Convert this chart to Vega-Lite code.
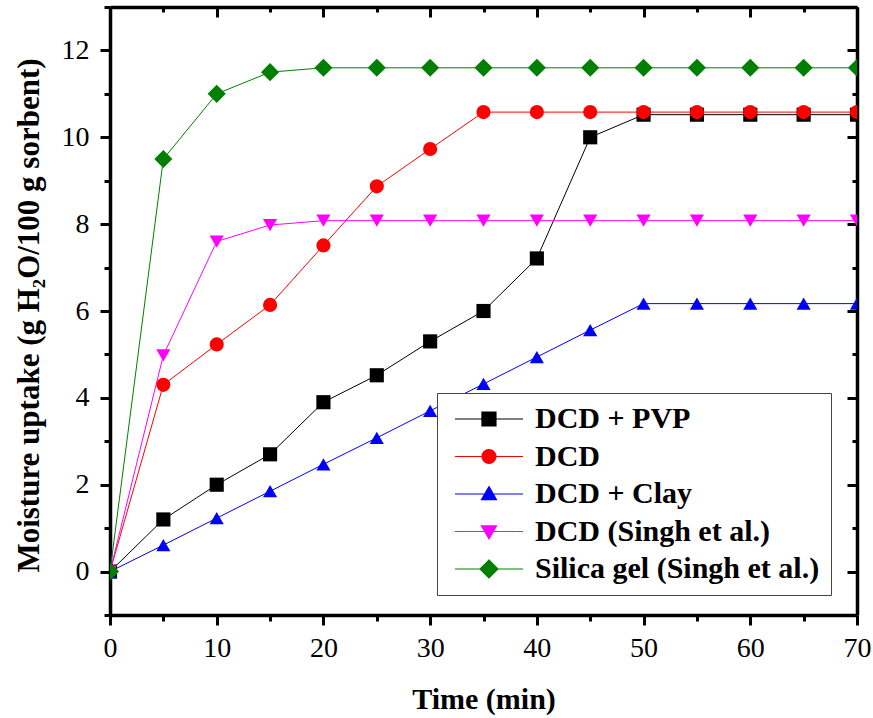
{
  "$schema": "https://vega.github.io/schema/vega-lite/v6.json",
  "width": 747,
  "height": 608,
  "autosize": {"type": "none"},
  "padding": {"left": 110, "top": 7, "right": 16, "bottom": 103},
  "background": "white",
  "config": {
    "view": {"stroke": null},
    "font": "Liberation Serif",
    "axis": {
      "labelFont": "Liberation Serif",
      "titleFont": "Liberation Serif",
      "labelColor": "black",
      "titleColor": "black",
      "domainColor": "black",
      "tickColor": "black",
      "domainWidth": 3.5,
      "tickWidth": 3,
      "grid": false,
      "labelFontSize": 28,
      "titleFontSize": 30,
      "titleFontWeight": "bold"
    }
  },
  "data": {
    "values": [
      {"series": "DCD + PVP", "t": 0, "v": 0},
      {"series": "DCD + PVP", "t": 5, "v": 1.2},
      {"series": "DCD + PVP", "t": 10, "v": 2.0},
      {"series": "DCD + PVP", "t": 15, "v": 2.7},
      {"series": "DCD + PVP", "t": 20, "v": 3.9},
      {"series": "DCD + PVP", "t": 25, "v": 4.52},
      {"series": "DCD + PVP", "t": 30, "v": 5.3},
      {"series": "DCD + PVP", "t": 35, "v": 6.0},
      {"series": "DCD + PVP", "t": 40, "v": 7.21},
      {"series": "DCD + PVP", "t": 45, "v": 10.0},
      {"series": "DCD + PVP", "t": 50, "v": 10.52},
      {"series": "DCD + PVP", "t": 55, "v": 10.52},
      {"series": "DCD + PVP", "t": 60, "v": 10.52},
      {"series": "DCD + PVP", "t": 65, "v": 10.52},
      {"series": "DCD + PVP", "t": 70, "v": 10.52},
      {"series": "DCD", "t": 0, "v": 0},
      {"series": "DCD", "t": 5, "v": 4.3},
      {"series": "DCD", "t": 10, "v": 5.23},
      {"series": "DCD", "t": 15, "v": 6.14},
      {"series": "DCD", "t": 20, "v": 7.51},
      {"series": "DCD", "t": 25, "v": 8.87},
      {"series": "DCD", "t": 30, "v": 9.73},
      {"series": "DCD", "t": 35, "v": 10.58},
      {"series": "DCD", "t": 40, "v": 10.58},
      {"series": "DCD", "t": 45, "v": 10.58},
      {"series": "DCD", "t": 50, "v": 10.58},
      {"series": "DCD", "t": 55, "v": 10.58},
      {"series": "DCD", "t": 60, "v": 10.58},
      {"series": "DCD", "t": 65, "v": 10.58},
      {"series": "DCD", "t": 70, "v": 10.58},
      {"series": "DCD + Clay", "t": 0, "v": 0},
      {"series": "DCD + Clay", "t": 5, "v": 0.61},
      {"series": "DCD + Clay", "t": 10, "v": 1.23},
      {"series": "DCD + Clay", "t": 15, "v": 1.85},
      {"series": "DCD + Clay", "t": 20, "v": 2.47},
      {"series": "DCD + Clay", "t": 25, "v": 3.08},
      {"series": "DCD + Clay", "t": 30, "v": 3.7},
      {"series": "DCD + Clay", "t": 35, "v": 4.32},
      {"series": "DCD + Clay", "t": 40, "v": 4.94},
      {"series": "DCD + Clay", "t": 45, "v": 5.56},
      {"series": "DCD + Clay", "t": 50, "v": 6.17},
      {"series": "DCD + Clay", "t": 55, "v": 6.17},
      {"series": "DCD + Clay", "t": 60, "v": 6.17},
      {"series": "DCD + Clay", "t": 65, "v": 6.17},
      {"series": "DCD + Clay", "t": 70, "v": 6.17},
      {"series": "DCD (Singh et al.)", "t": 0, "v": 0},
      {"series": "DCD (Singh et al.)", "t": 5, "v": 4.98},
      {"series": "DCD (Singh et al.)", "t": 10, "v": 7.6},
      {"series": "DCD (Singh et al.)", "t": 15, "v": 7.98},
      {"series": "DCD (Singh et al.)", "t": 20, "v": 8.08},
      {"series": "DCD (Singh et al.)", "t": 25, "v": 8.08},
      {"series": "DCD (Singh et al.)", "t": 30, "v": 8.08},
      {"series": "DCD (Singh et al.)", "t": 35, "v": 8.08},
      {"series": "DCD (Singh et al.)", "t": 40, "v": 8.08},
      {"series": "DCD (Singh et al.)", "t": 45, "v": 8.08},
      {"series": "DCD (Singh et al.)", "t": 50, "v": 8.08},
      {"series": "DCD (Singh et al.)", "t": 55, "v": 8.08},
      {"series": "DCD (Singh et al.)", "t": 60, "v": 8.08},
      {"series": "DCD (Singh et al.)", "t": 65, "v": 8.08},
      {"series": "DCD (Singh et al.)", "t": 70, "v": 8.08},
      {"series": "Silica gel (Singh et al.)", "t": 0, "v": 0},
      {"series": "Silica gel (Singh et al.)", "t": 5, "v": 9.5},
      {"series": "Silica gel (Singh et al.)", "t": 10, "v": 11.0},
      {"series": "Silica gel (Singh et al.)", "t": 15, "v": 11.5},
      {"series": "Silica gel (Singh et al.)", "t": 20, "v": 11.6},
      {"series": "Silica gel (Singh et al.)", "t": 25, "v": 11.6},
      {"series": "Silica gel (Singh et al.)", "t": 30, "v": 11.6},
      {"series": "Silica gel (Singh et al.)", "t": 35, "v": 11.6},
      {"series": "Silica gel (Singh et al.)", "t": 40, "v": 11.6},
      {"series": "Silica gel (Singh et al.)", "t": 45, "v": 11.6},
      {"series": "Silica gel (Singh et al.)", "t": 50, "v": 11.6},
      {"series": "Silica gel (Singh et al.)", "t": 55, "v": 11.6},
      {"series": "Silica gel (Singh et al.)", "t": 60, "v": 11.6},
      {"series": "Silica gel (Singh et al.)", "t": 65, "v": 11.6},
      {"series": "Silica gel (Singh et al.)", "t": 70, "v": 11.6}
    ]
  },
  "layer": [
    {
      "mark": {"type": "line", "clip": true, "strokeWidth": 1},
      "encoding": {
        "x": {
          "field": "t",
          "type": "quantitative",
          "scale": {"domain": [0, 70], "nice": false, "zero": false},
          "axis": {
            "orient": "bottom",
            "title": "Time (min)",
            "values": [0, 10, 20, 30, 40, 50, 60, 70],
            "tickSize": 10,
            "labelPadding": 9,
            "labelFlush": false,
            "labelOverlap": false,
            "titlePadding": 22
          }
        },
        "y": {
          "field": "v",
          "type": "quantitative",
          "scale": {"domain": [-1, 13], "nice": false, "zero": false},
          "axis": {
            "orient": "left",
            "title": "Moisture uptake (g H₂O/100 g sorbent)",
            "titleFontSize": 31,
            "titleAngle": -90,
            "titleAlign": "center",
            "titleBaseline": "middle",
            "titleX": -81,
            "titleY": 308,
            "values": [0, 2, 4, 6, 8, 10, 12],
            "tickSize": 10,
            "labelPadding": 11,
            "labelFlush": false,
            "labelOverlap": false
          }
        },
        "color": {
          "field": "series",
          "type": "nominal",
          "scale": {
            "domain": ["DCD + PVP", "DCD", "DCD + Clay", "DCD (Singh et al.)", "Silica gel (Singh et al.)"],
            "range": ["#000000", "#ff0000", "#0000ff", "#ff00ff", "#008000"]
          },
          "legend": null
        }
      }
    },
    {
      "mark": {"type": "point", "filled": true, "size": 200, "clip": true, "opacity": 1},
      "encoding": {
        "x": {
          "field": "t",
          "type": "quantitative",
          "axis": {
            "orient": "bottom",
            "title": null,
            "labels": false,
            "domain": false,
            "values": [5, 15, 25, 35, 45, 55, 65],
            "tickSize": 6
          }
        },
        "y": {
          "field": "v",
          "type": "quantitative",
          "axis": {
            "orient": "left",
            "title": null,
            "labels": false,
            "domain": false,
            "values": [-1, 1, 3, 5, 7, 9, 11, 13],
            "tickSize": 6
          }
        },
        "color": {"field": "series", "type": "nominal", "legend": null},
        "shape": {
          "condition": [
            {"test": "datum.series === 'DCD + PVP'", "value": "square"},
            {"test": "datum.series === 'DCD'", "value": "circle"},
            {"test": "datum.series === 'DCD + Clay'", "value": "triangle-up"},
            {"test": "datum.series === 'DCD (Singh et al.)'", "value": "triangle-down"}
          ],
          "value": "M0,-1.28L1.28,0L0,1.28L-1.28,0Z"
        }
      }
    },
    {
      "mark": {"type": "point", "filled": true, "opacity": 0},
      "encoding": {
        "x": {
          "field": "t",
          "type": "quantitative",
          "axis": {
            "orient": "top",
            "title": null,
            "labels": false,
            "values": [0, 5, 10, 15, 20, 25, 30, 35, 40, 45, 50, 55, 60, 65, 70],
            "tickSize": {"condition": {"test": "datum.value % 10 !== 0", "value": -5}, "value": -10}
          }
        },
        "y": {
          "field": "v",
          "type": "quantitative",
          "axis": {
            "orient": "right",
            "title": null,
            "labels": false,
            "values": [-1, 0, 1, 2, 3, 4, 5, 6, 7, 8, 9, 10, 11, 12, 13],
            "tickSize": {"condition": {"test": "datum.value % 2 !== 0", "value": -5}, "value": -10}
          }
        },
        "color": {
          "field": "series",
          "type": "nominal",
          "legend": {
            "orient": "none",
            "legendX": 327,
            "legendY": 386,
            "title": null,
            "fillColor": "white",
            "strokeColor": "#444444",
            "padding": 11,
            "rowPadding": 7.5,
            "symbolSize": 196,
            "symbolOpacity": 1,
            "symbolStrokeWidth": 1.2,
            "labelFont": "Liberation Serif",
            "labelFontSize": 30,
            "labelFontWeight": "bold",
            "labelColor": "black",
            "labelOffset": 57,
            "labelLimit": 500
          }
        },
        "stroke": {
          "field": "series",
          "type": "nominal",
          "scale": {
            "domain": ["DCD + PVP", "DCD", "DCD + Clay", "DCD (Singh et al.)", "Silica gel (Singh et al.)"],
            "range": ["#000000", "#ff0000", "#0000ff", "#ff00ff", "#008000"]
          },
          "legend": {
            "orient": "none",
            "legendX": 327,
            "legendY": 386,
            "title": null,
            "fillColor": "white",
            "strokeColor": "#444444",
            "padding": 11,
            "rowPadding": 7.5,
            "symbolSize": 196,
            "symbolOpacity": 1,
            "symbolStrokeWidth": 1.2,
            "labelFont": "Liberation Serif",
            "labelFontSize": 30,
            "labelFontWeight": "bold",
            "labelColor": "black",
            "labelOffset": 57,
            "labelLimit": 500
          }
        },
        "shape": {
          "field": "series",
          "type": "nominal",
          "scale": {
            "domain": ["DCD + PVP", "DCD", "DCD + Clay", "DCD (Singh et al.)", "Silica gel (Singh et al.)"],
            "range": [
              "M-1.15,0H8.57M2.71,-1H4.71V1H2.71Z",
              "M-1.15,0H8.57M2.71,0A1,1 0 1,0 4.71,0A1,1 0 1,0 2.71,0Z",
              "M-1.15,0H8.57M3.71,-1.05L4.78,0.8L2.64,0.8Z",
              "M-1.15,0H8.57M3.71,1.05L4.78,-0.8L2.64,-0.8Z",
              "M-1.15,0H8.57M3.71,-1.28L4.99,0L3.71,1.28L2.43,0Z"
            ]
          },
          "legend": {
            "orient": "none",
            "legendX": 327,
            "legendY": 386,
            "title": null,
            "fillColor": "white",
            "strokeColor": "#444444",
            "padding": 11,
            "rowPadding": 7.5,
            "symbolSize": 196,
            "symbolOpacity": 1,
            "symbolStrokeWidth": 1.2,
            "labelFont": "Liberation Serif",
            "labelFontSize": 30,
            "labelFontWeight": "bold",
            "labelColor": "black",
            "labelOffset": 57,
            "labelLimit": 500
          }
        }
      }
    }
  ],
  "resolve": {
    "axis": {"x": "independent", "y": "independent"},
    "legend": {"color": "independent", "shape": "independent", "stroke": "independent"}
  }
}
